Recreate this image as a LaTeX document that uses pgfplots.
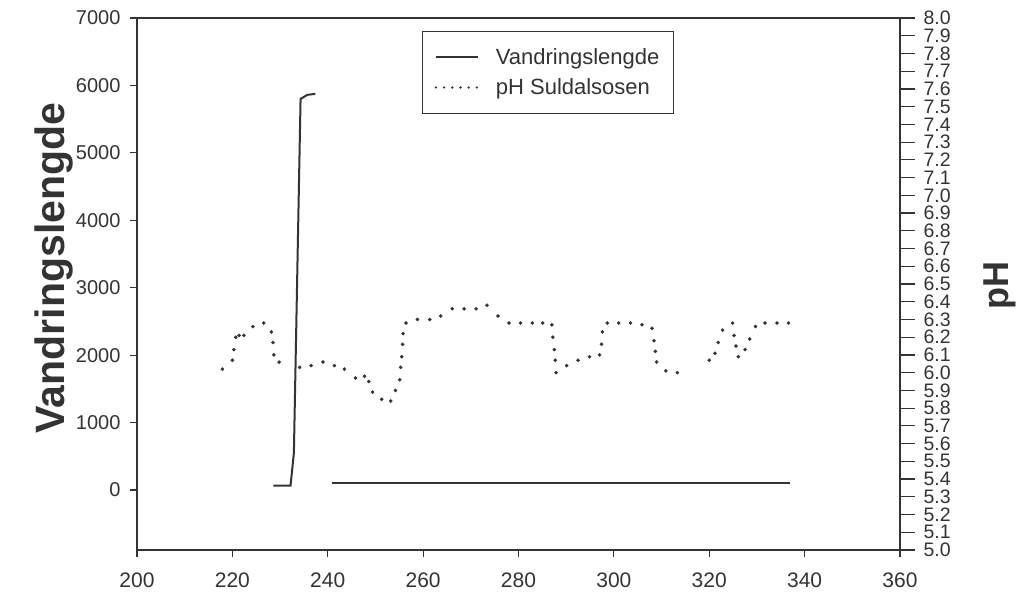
\documentclass[border=0pt]{standalone}
\usepackage{fontspec}
\setmainfont{Liberation Sans}
\usepackage{pgfplots}
\pgfplotsset{compat=1.18}

\definecolor{ink}{gray}{0.2}

\pgfplotsset{
  base/.style={
    width=763pt, height=532pt, scale only axis,
    xmin=200, xmax=360,
    tick align=outside,
    tick style={ink, line width=1.2pt},
    axis line style={ink, line width=1.4pt},
    tick label style={font=\fontsize{21}{24}\selectfont, text=ink},
    /pgf/number format/assume math mode=true,
  },
}

\begin{document}
\begin{tikzpicture}
% left axis: Vandringslengde
\begin{axis}[base,
  ymin=-890, ymax=7000,
  ytick={0,1000,...,7000},
  xtick={200,220,...,360},
  tick pos=left,
  major tick length=7pt,
  yticklabel style={/pgf/number format/1000 sep={}, font=\fontsize{20}{24}\selectfont, xshift=-6pt},
  xticklabel style={yshift=-12pt},
  ylabel={Vandringslengde},
  ylabel style={at={(axis description cs:-0.109,0.53)}, anchor=center, inner sep=0pt,
    font=\fontsize{41}{46}\selectfont\bfseries, text=ink},
]
\coordinate (bl) at (rel axis cs:0,0);
\addplot[ink, line width=2pt] coordinates {
  (228.6,65) (232.2,65) (232.9,550) (234.3,5800) (235.7,5860) (237.4,5875)
};
\addplot[ink, line width=2pt] coordinates {
  (240.9,105) (336.9,105)
};
\end{axis}

% right axis: pH
\begin{axis}[base,
  ymin=5, ymax=8,
  ytick distance=0.1,
  axis x line=none, axis y line*=right,
  major tick length=15pt,
  yticklabel style={/pgf/number format/.cd, fixed, fixed zerofill, precision=1,
    /tikz/.cd, font=\fontsize{19.5}{20}\selectfont, inner ysep=0pt, xshift=5pt},
  ylabel={pH},
  ylabel style={at={(axis description cs:1.131,0.498)}, anchor=center,
    font=\fontsize{36}{40}\selectfont\bfseries, text=ink},
  legend style={at={(rel axis cs:0.3735,0.976)}, anchor=north west,
    draw=ink, line width=1.2pt, fill=white, text=ink,
    font=\fontsize{22}{26}\selectfont, inner xsep=12pt, inner ysep=15pt,
    row sep=9pt, column sep=15pt},
  legend cell align=left,
]
\addlegendimage{legend image code/.code={\draw[ink, line width=2pt] (0pt,0pt) -- (42pt,0pt);}}
\addlegendentry{Vandringslengde}

\addplot[only marks, mark=*, mark size=1.6pt, ink,
  legend image code/.code={\draw[ink, line width=2.6pt, line cap=round,
    dash pattern=on 0pt off 8.2pt] (0pt,0pt) -- (41pt,0pt);}]
coordinates {
  (217.9,6.02) (220.0,6.07) (220.3,6.13) (220.7,6.20) (221.4,6.21) (222.4,6.21)
  (224.3,6.26) (226.6,6.28) (228.2,6.23) (228.5,6.17) (228.7,6.10) (229.8,6.06)
  (234.1,6.03) (236.5,6.04) (239.0,6.06) (241.4,6.04) (243.5,6.02) (245.8,5.97)
  (247.7,5.98) (248.6,5.95) (249.4,5.89) (251.3,5.85) (253.2,5.84) (254.2,5.90)
  (255.1,5.96) (255.3,6.03) (255.5,6.09) (255.7,6.16) (255.8,6.22) (256.4,6.28)
  (258.8,6.30) (261.4,6.30) (263.7,6.32) (266.1,6.36) (268.6,6.36) (271.1,6.36)
  (273.4,6.38) (275.7,6.32) (278.0,6.28) (280.4,6.28) (282.9,6.28) (285.1,6.28)
  (287.0,6.27) (287.2,6.20) (287.5,6.13) (287.7,6.07) (287.9,6.00) (290.1,6.04)
  (292.5,6.07) (294.9,6.09) (297.0,6.10) (297.4,6.16) (297.6,6.23) (298.6,6.28)
  (301.0,6.28) (303.5,6.28) (305.9,6.27) (308.0,6.25) (308.4,6.18) (308.7,6.12)
  (309.0,6.06) (310.9,6.01) (313.3,6.00)
  (320.0,6.07) (321.2,6.11) (321.9,6.17) (322.8,6.24) (324.9,6.28) (325.2,6.21)
  (325.6,6.15) (326.1,6.09) (327.5,6.13) (328.5,6.19) (329.7,6.26) (331.7,6.28)
  (334.2,6.28) (336.6,6.28)
};
\addlegendentry{pH Suldalsosen}
\end{axis}

\path (bl) ++(-137pt,-48pt) rectangle ++(1022pt,598pt);
\end{tikzpicture}
\end{document}
